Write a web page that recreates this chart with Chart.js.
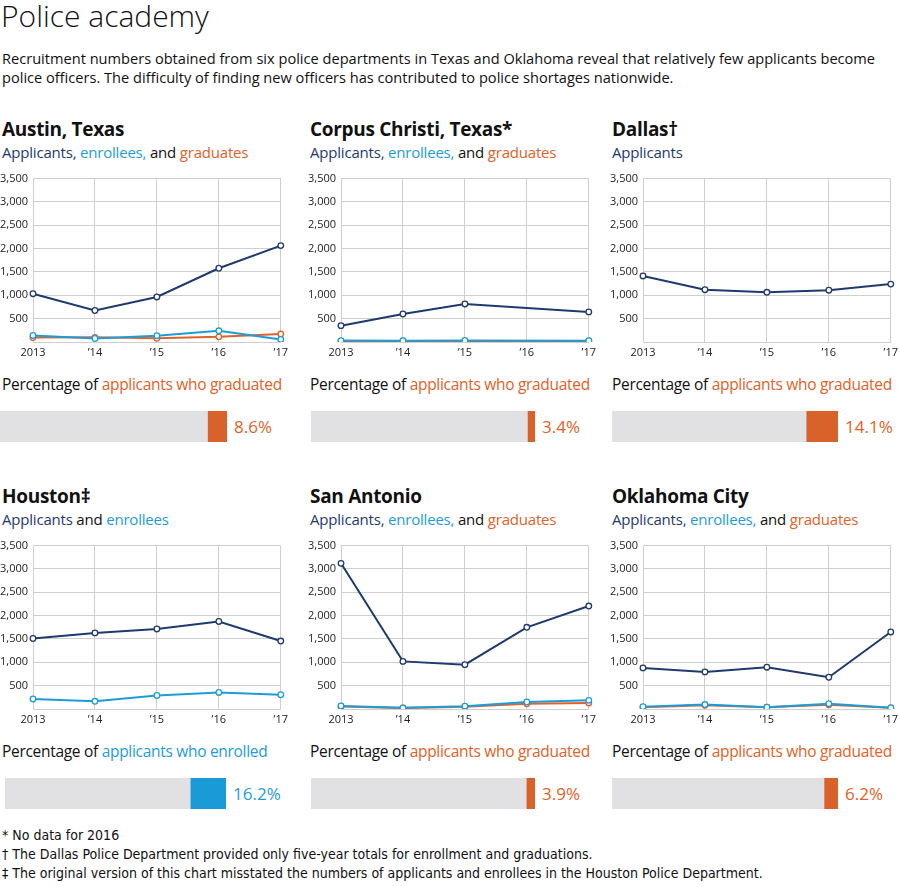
<!DOCTYPE html>
<html>
<head>
<meta charset="utf-8">
<script src="https://cdn.jsdelivr.net/npm/chart.js@4.4.1/dist/chart.umd.min.js"></script>
<style>
  body { margin:0; background:#fff; font-family:"Open Sans", sans-serif; color:#111; }
  #page { position:relative; width:900px; height:887px; overflow:hidden; }
  .abs { position:absolute; white-space:nowrap; }
  .title { font-size:30px; font-weight:300; line-height:34px; }
  .intro { font-size:14.6px; line-height:19px; }
  .ptitle { font-size:19px; font-weight:700; line-height:22px; letter-spacing:-0.3px; }
  .legend { font-size:15px; line-height:18px; letter-spacing:-0.2px; }
  .plabel { font-size:15.5px; line-height:18px; letter-spacing:-0.3px; }
  .pval { font-size:17px; line-height:31px; }
  .notes { font-size:14px; line-height:19px; font-family:"Liberation Sans Narrow","DejaVu Sans Condensed",sans-serif; }
  .navy { color:#1f3a6e; } .blue { color:#1e9cd8; } .orange { color:#df6228; }
  canvas { position:absolute; }
</style>
</head>
<body>
<div id="page">
  <div class="abs title" style="left:1px;top:-1px">Police academy</div>
  <div class="abs intro" style="left:2px;top:49px">Recruitment numbers obtained from six police departments in Texas and Oklahoma reveal that relatively few applicants become<br>police officers. The difficulty of finding new officers has contributed to police shortages nationwide.</div>
  <div class="abs notes" style="left:2px;top:826px">* No data for 2016<br>† The Dallas Police Department provided only five-year totals for enrollment and graduations.<br>‡ The original version of this chart misstated the numbers of applicants and enrollees in the Houston Police Department.</div>
</div>
<script>
// Years on the x axis
const years = ['2013', '\u201914', '\u201915', '\u201916', '\u201917'];
const yTicks = [500, 1000, 1500, 2000, 2500, 3000, 3500];

const austinApplicants = [1035, 675, 965, 1580, 2065];
const austinEnrollees  = [140, 75, 135, 240, 55];
const austinGraduates  = [95, 100, 80, 110, 170];

const corpusApplicants = [350, 600, 815, null, 645];
const corpusEnrollees  = [30, 28, 32, null, 28];
const corpusGraduates  = [18, 20, 24, null, 20];

const dallasApplicants = [1415, 1120, 1065, 1110, 1240];

const houstonApplicants = [1510, 1630, 1715, 1875, 1455];
const houstonEnrollees  = [215, 165, 290, 355, 305];

const sanAntonioApplicants = [3120, 1020, 950, 1750, 2205];
const sanAntonioEnrollees  = [65, 25, 60, 150, 185];
const sanAntonioGraduates  = [55, 20, 50, 110, 130];

const okcApplicants = [880, 795, 895, 680, 1650];
const okcEnrollees  = [50, 95, 40, 115, 28];
const okcGraduates  = [40, 78, 40, 92, 25];

// share of applicants who graduated / enrolled
const percentages = [8.6, 3.4, 14.1, 16.2, 3.9, 6.2];

const NAVY = '#1f3a6e', BLUE = '#1e9cd8', ORANGE = '#df6228';
const BAR_ORANGE = '#d9612a', BAR_BLUE = '#1b9ad8', GRAY = '#e1e1e3';

const panels = [
  { name:'Austin, Texas', legend:'all', col:0, row:0, pctKind:'graduated', barX:0, barW:227,
    series:[austinApplicants, austinEnrollees, austinGraduates] },
  { name:'Corpus Christi, Texas*', legend:'all', col:1, row:0, pctKind:'graduated', barX:311, barW:224,
    series:[corpusApplicants, corpusEnrollees, corpusGraduates] },
  { name:'Dallas\u2020', legend:'app', col:2, row:0, pctKind:'graduated', barX:612, barW:226,
    series:[dallasApplicants] },
  { name:'Houston\u2021', legend:'enr', col:0, row:1, pctKind:'enrolled', barX:5, barW:221,
    series:[houstonApplicants, houstonEnrollees] },
  { name:'San Antonio', legend:'all', col:1, row:1, pctKind:'graduated', barX:311, barW:224,
    series:[sanAntonioApplicants, sanAntonioEnrollees, sanAntonioGraduates] },
  { name:'Oklahoma City', legend:'all', col:2, row:1, pctKind:'graduated', barX:612, barW:226,
    series:[okcApplicants, okcEnrollees, okcGraduates] }
];

const colX = [0, 308, 610];
const rowY = [0, 367];
const page = document.getElementById('page');

function addDiv(cls, left, top, html) {
  const d = document.createElement('div');
  d.className = 'abs ' + cls;
  d.style.left = left + 'px';
  d.style.top = top + 'px';
  d.innerHTML = html;
  page.appendChild(d);
  return d;
}
function addCanvas(left, top, w, h) {
  const c = document.createElement('canvas');
  c.width = w; c.height = h;
  c.style.left = left + 'px'; c.style.top = top + 'px';
  c.style.width = w + 'px'; c.style.height = h + 'px';
  page.appendChild(c);
  return c;
}

const legends = {
  all: '<span class="navy">Applicants,</span> <span class="blue">enrollees,</span> and <span class="orange">graduates</span>',
  app: '<span class="navy">Applicants</span>',
  enr: '<span class="navy">Applicants</span> and <span class="blue">enrollees</span>'
};

panels.forEach((p, i) => {
  const x0 = colX[p.col], y0 = rowY[p.row];
  addDiv('ptitle', x0 + 2, y0 + 118, p.name);
  addDiv('legend', x0 + 2, y0 + 143, legends[p.legend]);

  // line chart
  const plotLeft = x0 + 33, plotTop = y0 + 175;
  const canvas = addCanvas(plotLeft - 33, plotTop - 8, 292, 197);
  const colors = [NAVY, BLUE, ORANGE];
  const labels = ['Applicants', 'Enrollees', 'Graduates'];
  const datasets = p.series.map((s, k) => ({
    label: labels[k],
    data: s,
    borderColor: colors[k],
    backgroundColor: '#fff',
    pointBackgroundColor: '#fff',
    pointBorderColor: colors[k],
    pointBorderWidth: 1.3,
    pointRadius: 2.8,
    borderWidth: 2,
    tension: 0,
    spanGaps: true
  }));
  new Chart(canvas, {
    type: 'line',
    data: { labels: years, datasets: datasets },
    options: {
      responsive: false,
      animation: false,
      layout: { padding: { top: 8, right: 9, left: 0, bottom: 0 } },
      plugins: { legend: { display: false }, tooltip: { enabled: false } },
      scales: {
        x: {
          offset: false,
          grid: { color: '#cfcfcf', drawTicks: false },
          border: { color: '#cfcfcf' },
          ticks: { color: '#222', padding: 4, maxRotation: 0, autoSkip: false,
                   font: { family: 'Open Sans', size: 11 } },
          afterFit: s => { s.height = 22; }
        },
        y: {
          min: 0, max: 3500,
          afterBuildTicks: s => { s.ticks = [0].concat(yTicks).map(v => ({ value: v })); },
          grid: { color: '#cfcfcf', drawTicks: false },
          border: { color: '#cfcfcf' },
          ticks: { color: '#222', padding: 5,
                   font: { family: 'Open Sans', size: 11 },
                   callback: v => v === 0 ? '' : v.toLocaleString('en-US') },
          afterFit: s => { s.width = 33; }
        }
      }
    }
  });

  // percentage bar
  const isEnr = p.pctKind === 'enrolled';
  addDiv('plabel', x0 + 2, y0 + 375,
    'Percentage of <span class="' + (isEnr ? 'blue' : 'orange') + '">applicants who ' + p.pctKind + '</span>');
  const bc = addCanvas(p.barX, y0 + 411, p.barW, 31);
  new Chart(bc, {
    type: 'bar',
    data: {
      labels: [''],
      datasets: [
        { data: [100 - percentages[i]], backgroundColor: GRAY, barPercentage: 1, categoryPercentage: 1 },
        { data: [percentages[i]], backgroundColor: isEnr ? BAR_BLUE : BAR_ORANGE, barPercentage: 1, categoryPercentage: 1 }
      ]
    },
    options: {
      indexAxis: 'y',
      responsive: false,
      animation: false,
      layout: { padding: 0 },
      plugins: { legend: { display: false }, tooltip: { enabled: false } },
      scales: {
        x: { stacked: true, min: 0, max: 100, display: false },
        y: { stacked: true, display: false }
      }
    }
  });
  addDiv('pval ' + (isEnr ? 'blue' : 'orange'), p.barX + p.barW + 7, y0 + 411, percentages[i].toFixed(1) + '%');
});
</script>
</body>
</html>
